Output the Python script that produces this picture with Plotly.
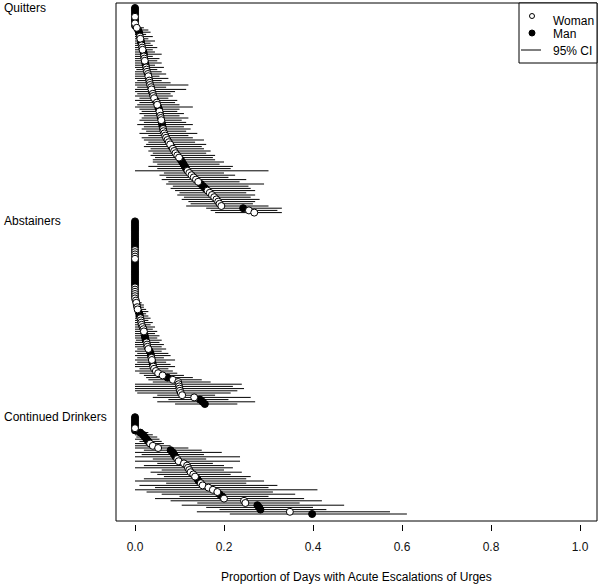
import plotly.graph_objects as go

# ---------------- data ----------------
GROUPS = ["Quitters", "Abstainers", "Continued Drinkers"]
X_TICKS = [0.0, 0.2, 0.4, 0.6, 0.8, 1.0]
X_TICK_LABELS = ["0.0", "0.2", "0.4", "0.6", "0.8", "1.0"]
X_TITLE = "Proportion of Days with Acute Escalations of Urges"

Q_SEX = "MMMMWMMWM" + "WMMMWWMMWW" + "WMMWWWMMWW" + "WWWMWWWWWM" + "WWWMWWMMWM" + \
        "WWWMMMWWWW" + "WWWWMWWWWW" + "MMMMMWWWWW" + "WMMMWWWWWW" + "WWMWW"
Q_EST = [0, 0, 0, 0, 0, 0, 0, 0, 0,
         0.004, 0.007, 0.009, 0.010, 0.011, 0.012, 0.013, 0.014, 0.015, 0.016,
         0.017, 0.019, 0.020, 0.020, 0.021, 0.022, 0.023, 0.024, 0.025, 0.026,
         0.027, 0.029, 0.030, 0.031, 0.032, 0.033, 0.034, 0.036, 0.037, 0.038,
         0.040, 0.041, 0.043, 0.046, 0.049, 0.050, 0.052, 0.054, 0.055, 0.056,
         0.057, 0.058, 0.059, 0.060, 0.061, 0.062, 0.063, 0.064, 0.066, 0.068,
         0.070, 0.073, 0.076, 0.079, 0.082, 0.085, 0.088, 0.091, 0.095, 0.099,
         0.103, 0.106, 0.109, 0.112, 0.115, 0.118, 0.122, 0.127, 0.132, 0.137,
         0.142, 0.148, 0.153, 0.158, 0.163, 0.168, 0.173, 0.178, 0.183, 0.187,
         0.190, 0.194, 0.243, 0.256, 0.268]
Q_LO = [0, 0, 0, 0, 0, 0, 0, 0, 0,
        0, 0, 0, 0, 0, 0, 0, 0, 0, 0,
        0, 0, 0, 0, 0, 0, 0, 0, 0, 0.003,
        0, 0, 0, 0, 0.005, 0, 0, 0.005, 0, 0,
        0.005, 0, 0.01, 0, 0.01, 0.005, 0, 0.01, 0.015, 0.01,
        0.02, 0.015, 0.01, 0.02, 0.005, 0.02, 0.015, 0.025, 0.01, 0.03,
        0.015, 0.02, 0.03, 0.025, 0.02, 0.035, 0.03, 0.04, 0.035, 0.045,
        0.04, 0.04, 0.05, 0.03, 0.05, 0.0, 0.065, 0.055, 0.07, 0.06,
        0.075, 0.07, 0.085, 0.08, 0.09, 0.1, 0.095, 0.11, 0.105, 0.12,
        0.125, 0.115, 0.16, 0.17, 0.18]
Q_HI = [0, 0, 0, 0, 0, 0, 0, 0, 0,
        0.02, 0.03, 0.035, 0.025, 0.04, 0.03, 0.045, 0.035, 0.04, 0.05,
        0.04, 0.045, 0.06, 0.04, 0.055, 0.05, 0.06, 0.045, 0.065, 0.05,
        0.06, 0.07, 0.055, 0.075, 0.06, 0.08, 0.12, 0.07, 0.115, 0.09,
        0.08, 0.085, 0.075, 0.095, 0.09, 0.1, 0.13, 0.1, 0.095, 0.11,
        0.1, 0.12, 0.105, 0.115, 0.13, 0.11, 0.125, 0.115, 0.14, 0.12,
        0.13, 0.155, 0.135, 0.16, 0.15, 0.155, 0.17, 0.16, 0.18, 0.175,
        0.18, 0.2, 0.19, 0.22, 0.215, 0.30, 0.2, 0.225, 0.21, 0.25,
        0.235, 0.29, 0.255, 0.26, 0.27, 0.25, 0.27, 0.26, 0.28, 0.27,
        0.265, 0.3, 0.33, 0.32, 0.33]

A_SEX = "MMMMMMMMMMMMM" + "WWWWW" + "MMMMMMMMMMMM" + "WWWWWW" + \
        "WWMWWMMMWW" + "WWWWWMMMMW" + "WWWMMMWWMM" + "WWWWWMWWWW" + "WWWWWMMM"
A_EST = [0] * 36 + [
    0.002, 0.003, 0.004, 0.005, 0.006, 0.008, 0.010, 0.011, 0.012, 0.013,
    0.014, 0.015, 0.017, 0.019, 0.020, 0.021, 0.022, 0.023, 0.024, 0.026,
    0.027, 0.028, 0.030, 0.033, 0.035, 0.036, 0.037, 0.038, 0.039, 0.040,
    0.041, 0.043, 0.047, 0.052, 0.062, 0.073, 0.085, 0.097, 0.098, 0.099,
    0.100, 0.101, 0.103, 0.106, 0.133, 0.146, 0.152, 0.157]
A_LO = [0] * 36 + [
    0, 0, 0, 0, 0, 0, 0, 0, 0, 0,
    0, 0, 0, 0, 0, 0, 0, 0, 0.002, 0,
    0, 0, 0.005, 0, 0.005, 0, 0.005, 0, 0.005, 0,
    0, 0.01, 0, 0.01, 0.02, 0.025, 0.03, 0.04, 0, 0,
    0, 0, 0.005, 0.05, 0.04, 0.075, 0.05, 0.09]
A_HI = [0] * 36 + [
    0.01, 0.015, 0.02, 0.02, 0.025, 0.03, 0.025, 0.03, 0.035, 0.03,
    0.04, 0.035, 0.045, 0.04, 0.05, 0.045, 0.055, 0.05, 0.06, 0.055,
    0.065, 0.06, 0.07, 0.06, 0.075, 0.08, 0.065, 0.09, 0.07, 0.08,
    0.09, 0.075, 0.085, 0.095, 0.11, 0.13, 0.15, 0.17, 0.24, 0.22,
    0.245, 0.23, 0.215, 0.18, 0.26, 0.21, 0.27, 0.23]

C_SEX = "MMMMMWM" + "MMMMM" + "WWW" + "MMMM" + "WWWWWWWWW" + "MM" + "WWWWW" + \
        "MM" + "WWW" + "MMM" + "W" + "M"
C_EST = [0, 0, 0, 0, 0, 0, 0,
         0.012, 0.018, 0.022, 0.026, 0.030, 0.034, 0.040, 0.052,
         0.080, 0.085, 0.088, 0.091, 0.095, 0.098, 0.110, 0.117, 0.119, 0.122,
         0.125, 0.131, 0.135,
         0.140, 0.143, 0.148, 0.152, 0.165, 0.175, 0.185, 0.190, 0.196, 0.200,
         0.245, 0.248, 0.275, 0.279, 0.282, 0.348, 0.398]
C_LO = [0, 0, 0, 0, 0, 0, 0,
        0, 0, 0.003, 0, 0.01, 0, 0, 0,
        0.02, 0, 0.015, 0, 0.04, 0, 0.05, 0.02, 0, 0.06, 0.035, 0.05, 0.065,
        0.02, 0, 0.07, 0.01, 0.045, 0, 0.026, 0.06, 0.1, 0.045,
        0.08, 0.14, 0.105, 0.16, 0.19, 0.139, 0.213]
C_HI = [0, 0, 0, 0, 0, 0, 0,
        0.03, 0.04, 0.05, 0.055, 0.06, 0.065, 0.08, 0.12,
        0.15, 0.195, 0.155, 0.236, 0.16, 0.236, 0.175, 0.2, 0.22, 0.2, 0.24, 0.215, 0.26,
        0.25, 0.29, 0.25, 0.32, 0.3, 0.41, 0.31, 0.36, 0.3, 0.38,
        0.42, 0.37, 0.47, 0.4, 0.43, 0.573, 0.611]

DATA = [(Q_EST, Q_LO, Q_HI, Q_SEX), (A_EST, A_LO, A_HI, A_SEX), (C_EST, C_LO, C_HI, C_SEX)]
GAPS = [3, 5]  # empty rows between groups

# ---------------- build ----------------
FONT = "Liberation Sans, Arial, sans-serif"
ci_x, ci_y = [], []
wx, wy, mx, my = [], [], [], []
offsets = []
off = 0
for g, (est, lo, hi, sex) in enumerate(DATA):
    offsets.append(off)
    for i, (e, l, h, s) in enumerate(zip(est, lo, hi, sex)):
        yy = off + i
        if h > l:
            ci_x += [l, h, None]
            ci_y += [yy, yy, None]
        if s == "W":
            wx.append(e); wy.append(yy)
        else:
            mx.append(e); my.append(yy)
    off += len(est) + (GAPS[g] if g < len(GAPS) else 0)

fig = go.Figure()
fig.add_trace(go.Scatter(x=ci_x, y=ci_y, mode="lines",
                         line=dict(color="black", width=1), hoverinfo="skip"))
fig.add_trace(go.Scatter(x=mx, y=my, mode="markers",
                         marker=dict(symbol="circle", size=7, color="black",
                                     line=dict(color="black", width=1))))
fig.add_trace(go.Scatter(x=wx, y=wy, mode="markers",
                         marker=dict(symbol="circle", size=7, color="white",
                                     line=dict(color="black", width=1))))

W, H = 600, 585
ML, MR, MT, MB = 116, 3, 3, 61
PW, PH = W - ML - MR, H - MT - MB   # PH = 521 (plot area 3..521 + 3px gap to axis)
DY = 3.0 / PH                      # plot-area bottom inside the paper region


def px(x):
    return (x - ML) / PW


def py(y):
    return 1 - (y - MT) / PH


annotations = []
for name, o in zip(GROUPS, offsets):
    annotations.append(dict(text=name, xref="paper", yref="y", x=px(2), y=o,
                            xanchor="left", yanchor="middle", showarrow=False,
                            font=dict(family=FONT, size=12, color="black")))
annotations.append(dict(text=X_TITLE, xref="paper", yref="paper", x=0.5, y=py(577),
                        xanchor="center", yanchor="middle", showarrow=False,
                        font=dict(family=FONT, size=12, color="black")))
for txt, yc in [("Woman", 21), ("Man", 34), ("95% CI", 51)]:
    annotations.append(dict(text=txt, xref="paper", yref="paper", x=px(551), y=py(yc),
                            xanchor="left", yanchor="middle", showarrow=False,
                            font=dict(family=FONT, size=12, color="black")))

shapes = [
    # plot box
    dict(type="rect", xref="paper", yref="paper", x0=0, x1=1, y0=DY, y1=1,
         line=dict(color="black", width=1), layer="above"),
    # legend
    dict(type="rect", xref="paper", yref="paper", x0=px(519), x1=1, y0=py(63), y1=1,
         line=dict(color="black", width=1), fillcolor="white", layer="above"),
    dict(type="circle", xref="paper", yref="paper", xsizemode="pixel", ysizemode="pixel",
         xanchor=px(532), yanchor=py(16), x0=-2.5, x1=2.5, y0=-2.5, y1=2.5,
         line=dict(color="black", width=1), fillcolor="white", layer="above"),
    dict(type="circle", xref="paper", yref="paper", xsizemode="pixel", ysizemode="pixel",
         xanchor=px(532), yanchor=py(33), x0=-3, x1=3, y0=-3, y1=3,
         line=dict(color="black", width=1), fillcolor="black", layer="above"),
    dict(type="line", xref="paper", yref="paper", x0=px(521), x1=px(541), y0=py(50), y1=py(50),
         line=dict(color="black", width=1), layer="above"),
]

x0 = -(135 - ML) / 445.0
x1 = 1 + (ML + PW - 580) / 445.0
ytop = -(8 - MT) / 2.2
ybot = (521 - 8) / 2.2

fig.update_layout(
    width=W, height=H, margin=dict(l=ML, r=MR, t=MT, b=MB),
    plot_bgcolor="white", paper_bgcolor="white", showlegend=False,
    font=dict(family=FONT, size=12, color="black"),
    xaxis=dict(range=[x0, x1], tickvals=X_TICKS, ticktext=X_TICK_LABELS,
               anchor="free", position=0,
               ticks="outside", ticklen=6, tickwidth=1, tickcolor="black",
               showline=False, showgrid=False, zeroline=False, ticklabelstandoff=6,
               tickfont=dict(family=FONT, size=12, color="#111")),
    yaxis=dict(range=[ybot, ytop], domain=[DY, 1], showticklabels=False, ticks="",
               showline=False, showgrid=False, zeroline=False),
    annotations=annotations, shapes=shapes,
)

fig.write_html("out.html", config={"displayModeBar": False},
               post_script="document.body.style.margin='0';document.body.style.overflow='hidden';")
